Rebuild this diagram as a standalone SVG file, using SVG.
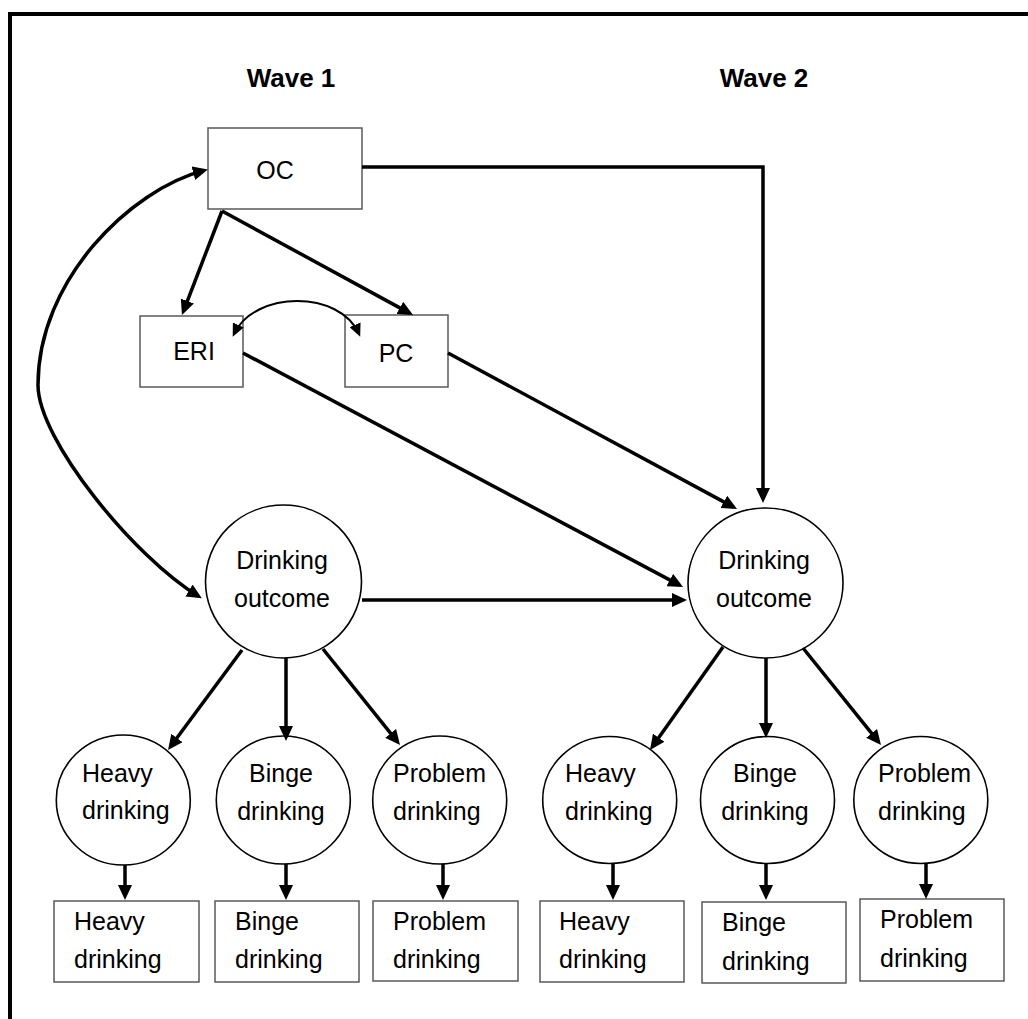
<svg xmlns="http://www.w3.org/2000/svg" width="1028" height="1019" viewBox="0 0 1028 1019">
  <defs>
    <style>
      .frame { stroke: #000; stroke-width: 4; fill: none; }
      .box { fill: #fff; stroke: #595959; stroke-width: 1.5; }
      .node { fill: #fff; stroke: #000; stroke-width: 1.6; }
      .lbl { font-family: "Liberation Sans", Arial, sans-serif; font-size: 25px; fill: #000; }
      .mid { text-anchor: middle; }
      .head { font-family: "Liberation Sans", Arial, sans-serif; font-size: 26px; font-weight: bold; fill: #000; text-anchor: middle; }
      .path { fill: none; stroke: #000; stroke-width: 3.5; marker-end: url(#arrow); }
      .corr { fill: none; stroke: #000; stroke-width: 3.5; marker-start: url(#arrow); marker-end: url(#arrow); }
      .corr-thin { fill: none; stroke: #000; stroke-width: 2; marker-start: url(#arrowSmall); marker-end: url(#arrowSmall); }
    </style>
    <marker id="arrow" markerUnits="userSpaceOnUse" markerWidth="16" markerHeight="14" refX="11" refY="7" orient="auto-start-reverse">
      <path d="M0,0 L15,7 L0,14 z" fill="#000"/>
    </marker>
    <marker id="arrowSmall" markerUnits="userSpaceOnUse" markerWidth="13" markerHeight="12" refX="10" refY="6" orient="auto-start-reverse">
      <path d="M0,0 L13,6 L0,12 z" fill="#000"/>
    </marker>
  </defs>

  <rect width="1028" height="1019" fill="#fff"/>

  <!-- outer frame (top and left edges) -->
  <path class="frame" d="M10,1019 V14 H1028"/>

  <!-- wave headings -->
  <text class="head" x="291" y="87">Wave 1</text>
  <text class="head" x="764" y="87">Wave 2</text>

  <!-- wave 1 predictors -->
  <g id="oc">
    <rect class="box" x="208" y="128" width="154" height="81"/>
    <text class="lbl mid" x="275" y="179">OC</text>
  </g>
  <g id="eri">
    <rect class="box" x="140" y="316" width="103" height="71"/>
    <text class="lbl mid" x="194" y="360">ERI</text>
  </g>
  <g id="pc">
    <rect class="box" x="345" y="315" width="103" height="72"/>
    <text class="lbl mid" x="396" y="362">PC</text>
  </g>

  <!-- latent drinking outcomes -->
  <g id="outcome-w1">
    <ellipse class="node" cx="283.5" cy="581.5" rx="78" ry="76.5"/>
    <text class="lbl mid" x="282" y="569">Drinking</text>
    <text class="lbl mid" x="282" y="607">outcome</text>
  </g>
  <g id="outcome-w2">
    <ellipse class="node" cx="765.5" cy="583" rx="77.5" ry="75"/>
    <text class="lbl mid" x="764" y="569">Drinking</text>
    <text class="lbl mid" x="764" y="607">outcome</text>
  </g>

  <!-- wave 1 indicators -->
  <g id="heavy-w1">
    <ellipse class="node" cx="123.3" cy="800" rx="67" ry="65"/>
    <text class="lbl" x="82" y="782">Heavy</text>
    <text class="lbl" x="82" y="819">drinking</text>
  </g>
  <g id="binge-w1">
    <ellipse class="node" cx="283.3" cy="800" rx="67" ry="64"/>
    <text class="lbl mid" x="281" y="782">Binge</text>
    <text class="lbl mid" x="281" y="820">drinking</text>
  </g>
  <g id="problem-w1">
    <ellipse class="node" cx="439.7" cy="800" rx="67" ry="64"/>
    <text class="lbl" x="393" y="782">Problem</text>
    <text class="lbl" x="393" y="820">drinking</text>
  </g>

  <!-- wave 2 indicators -->
  <g id="heavy-w2">
    <ellipse class="node" cx="609.7" cy="800" rx="67" ry="63.5"/>
    <text class="lbl" x="565" y="782">Heavy</text>
    <text class="lbl" x="565" y="820">drinking</text>
  </g>
  <g id="binge-w2">
    <ellipse class="node" cx="767.5" cy="800" rx="67" ry="63.5"/>
    <text class="lbl mid" x="765" y="782">Binge</text>
    <text class="lbl mid" x="765" y="820">drinking</text>
  </g>
  <g id="problem-w2">
    <ellipse class="node" cx="920.8" cy="800" rx="67" ry="63.5"/>
    <text class="lbl" x="878" y="782">Problem</text>
    <text class="lbl" x="878" y="820">drinking</text>
  </g>

  <!-- observed measures -->
  <g id="obs-heavy-w1">
    <rect class="box" x="54" y="901" width="145" height="81"/>
    <text class="lbl" x="74" y="930">Heavy</text>
    <text class="lbl" x="74" y="968">drinking</text>
  </g>
  <g id="obs-binge-w1">
    <rect class="box" x="215" y="901" width="144" height="81"/>
    <text class="lbl" x="235" y="930">Binge</text>
    <text class="lbl" x="235" y="968">drinking</text>
  </g>
  <g id="obs-problem-w1">
    <rect class="box" x="373" y="901" width="145" height="80"/>
    <text class="lbl" x="393" y="930">Problem</text>
    <text class="lbl" x="393" y="968">drinking</text>
  </g>
  <g id="obs-heavy-w2">
    <rect class="box" x="540" y="901" width="144" height="81"/>
    <text class="lbl" x="559" y="930">Heavy</text>
    <text class="lbl" x="559" y="968">drinking</text>
  </g>
  <g id="obs-binge-w2">
    <rect class="box" x="702" y="902" width="144" height="81"/>
    <text class="lbl" x="722" y="931">Binge</text>
    <text class="lbl" x="722" y="970">drinking</text>
  </g>
  <g id="obs-problem-w2">
    <rect class="box" x="860" y="899" width="144" height="82"/>
    <text class="lbl" x="880" y="928">Problem</text>
    <text class="lbl" x="880" y="967">drinking</text>
  </g>

  <!-- paths and correlations, drawn over the nodes -->
  <g id="connectors">
    <path class="path" d="M362,167 H763 V499"/>
    <path class="path" d="M222,211 L183.4,311.3"/>
    <path class="path" d="M222,211 L409.5,313.1"/>
    <path class="path" d="M243,353 L679.5,585.1"/>
    <path class="path" d="M448,353 L733.5,507.1"/>
    <path class="path" d="M362,600 H683"/>
    <path class="path" d="M242,650 L170.4,746.8"/>
    <path class="path" d="M286,658 V737"/>
    <path class="path" d="M323,649 L397.5,741.9"/>
    <path class="path" d="M723,647 L652.3,746.7"/>
    <path class="path" d="M766,658 V734"/>
    <path class="path" d="M803,648 L878.5,741.9"/>
    <path class="path" d="M125,865 V896"/>
    <path class="path" d="M286,864 V896"/>
    <path class="path" d="M443,864 V896"/>
    <path class="path" d="M613,863 V896"/>
    <path class="path" d="M766,863 V896"/>
    <path class="path" d="M926,863 V895"/>
    <path class="corr" d="M204,170.4 C130,190 38,280 38,385 C38,440 135,558 198.4,596.2"/>
    <path class="corr-thin" d="M234,334 C255,290 340,290 359,334"/>
  </g>
</svg>
